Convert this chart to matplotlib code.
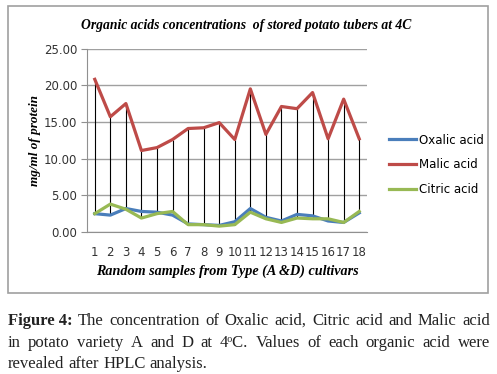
import numpy as np
import matplotlib
matplotlib.use('Agg')
from matplotlib import pyplot as plt
from matplotlib.patches import Rectangle
from matplotlib.lines import Line2D

samples = list(range(1, 19))
oxalic = [2.5, 2.3, 3.2, 2.8, 2.7, 2.3, 1.1, 1.0, 0.9, 1.4, 3.2, 2.0, 1.5, 2.4, 2.2, 1.5, 1.3, 2.6]
malic = [20.8, 15.7, 17.5, 11.1, 11.5, 12.6, 14.1, 14.2, 14.9, 12.6, 19.5, 13.3, 17.1, 16.8, 19.0, 12.7, 18.1, 12.7]
citric = [2.5, 3.8, 3.1, 1.9, 2.5, 2.8, 1.0, 1.0, 0.8, 1.0, 2.7, 1.8, 1.3, 1.9, 1.8, 1.8, 1.3, 2.8]
yticks = [0, 5, 10, 15, 20, 25]

W, H = 497, 374
fig = plt.figure(figsize=(W / 100, H / 100), dpi=100)

# chart frame
fig.patches.append(Rectangle((8 / W, 1 - 293 / H), 480 / W, 287 / H,
                             transform=fig.transFigure, fill=False,
                             edgecolor='#a0a0a0', lw=1.2))

ax = fig.add_axes([87 / W, 1 - 232 / H, 280 / W, 183.5 / H])

lo = np.minimum(np.minimum(oxalic, citric), malic)
hi = np.maximum(np.maximum(oxalic, citric), malic)
ax.vlines(samples, lo, hi, colors='black', lw=0.8, zorder=2)

ax.plot(samples, oxalic, color='#4a7ebb', lw=2.3, label='Oxalic acid', zorder=3)
ax.plot(samples, malic, color='#be4b48', lw=2.3, label='Malic acid', zorder=3)
ax.plot(samples, citric, color='#98b954', lw=2.3, label='Citric acid', zorder=3)

ax.set_xlim(0.5, 18.5)
ax.set_ylim(0, 25)
ax.set_yticks(yticks)
ax.set_yticklabels(['%.2f' % v for v in yticks], fontsize=8.5, color='#333333')
ax.set_xticks(samples)
ax.set_xticklabels([str(s) for s in samples], fontsize=8.5, color='#333333')
ax.tick_params(axis='y', length=4, color='#909090', pad=3)
ax.tick_params(axis='x', length=0, pad=10)
ax.yaxis.grid(True, color='#a0a0a0', lw=1)
ax.set_axisbelow(True)
for s in ['top', 'right']:
    ax.spines[s].set_visible(False)
for s in ['left', 'bottom']:
    ax.spines[s].set_color('#909090')

ax.set_ylabel('mg/ml of protein', fontsize=9.5, family='Liberation Serif',
              style='italic', weight='bold', labelpad=2)
ax.set_xlabel('Random samples from Type (A &D) cultivars', fontsize=10.2,
              family='Liberation Serif', style='italic', weight='bold', labelpad=4)

fig.text(246 / W, 1 - 25 / H,
         'Organic acids concentrations  of stored potato tubers at 4C',
         ha='center', va='center', fontsize=9.8, family='Liberation Serif',
         style='italic', weight='bold')

handles = [Line2D([], [], color=c, lw=2.3) for c in ['#4a7ebb', '#be4b48', '#98b954']]
fig.legend(handles, ['Oxalic acid', 'Malic acid', 'Citric acid'],
           loc='upper left', bbox_to_anchor=(378 / W, 1 - 123 / H),
           frameon=False, fontsize=8.5, handlelength=2.3, handletextpad=0.3,
           labelspacing=1.0)

# caption, justified like the journal text
cap = dict(fontsize=12, family='Liberation Serif', color='#222222', va='center')
lines = [
    ([('Figure 4:', 'bold')] + [(w, 'normal') for w in
      'The concentration of Oxalic acid, Citric acid and Malic acid'.split()], True),
    ([(w, 'normal') for w in
      'in potato variety A and D at 4\u1d52C.  Values of each organic acid were'.split()], True),
    ([(w, 'normal') for w in 'revealed after HPLC analysis.'.split()], False),
]
ys = [321, 343, 364]
x0, x1 = 8, 490
renderer = fig.canvas.get_renderer()
for (words, justify), y in zip(lines, ys):
    texts = [fig.text(0, 1 - y / H, w, weight=wt, **cap) for w, wt in words]
    widths = [t.get_window_extent(renderer).width for t in texts]
    space = fig.text(0, 0, 'a b', **cap)
    sw = space.get_window_extent(renderer).width - fig.text(0, 0, 'ab', **cap).get_window_extent(renderer).width
    for t in fig.texts[-2:]:
        t.remove()
    gap = (x1 - x0 - sum(widths)) / (len(words) - 1) if justify else sw
    x = x0
    for t, w in zip(texts, widths):
        t.set_x(x / W)
        x += w + gap

fig.savefig('out.png', dpi=100)
